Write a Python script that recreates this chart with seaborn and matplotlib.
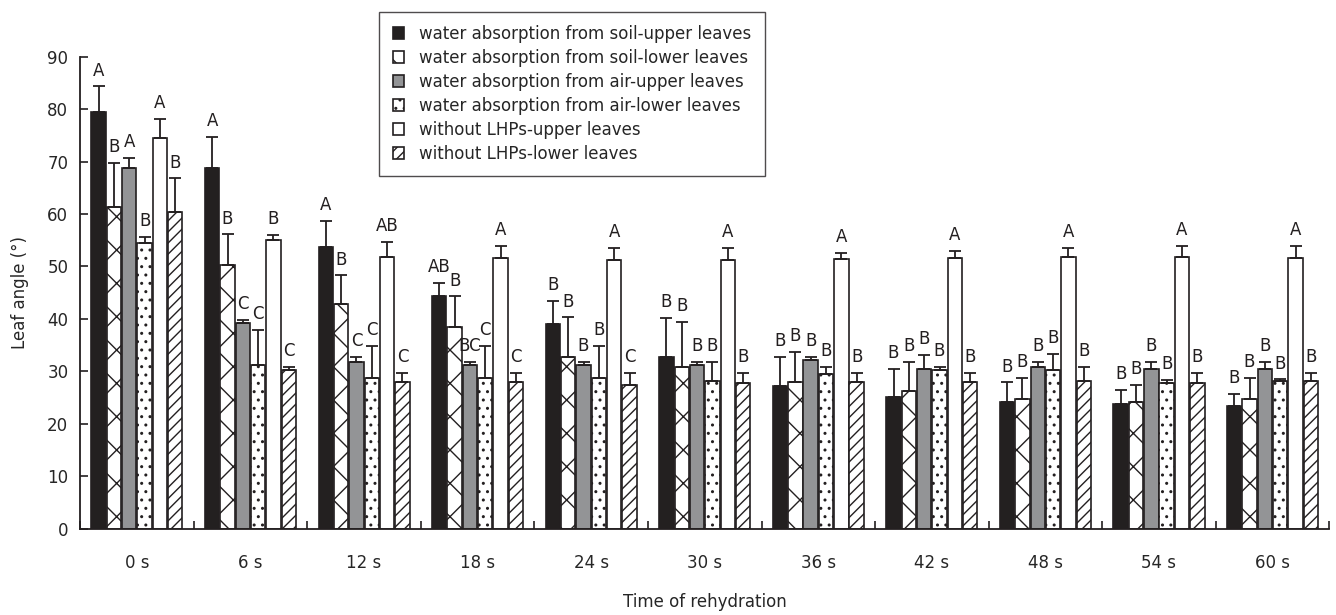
import numpy as np
import pandas as pd
import matplotlib
matplotlib.use("Agg")
import matplotlib.pyplot as plt
import seaborn as sns

# time points
times = ["0 s", "6 s", "12 s", "18 s", "24 s", "30 s", "36 s", "42 s", "48 s", "54 s", "60 s"]

treatments = [
    "water absorption from soil-upper leaves",
    "water absorption from soil-lower leaves",
    "water absorption from air-upper leaves",
    "water absorption from air-lower leaves",
    "without LHPs-upper leaves",
    "without LHPs-lower leaves",
]

# mean leaf angle (deg) per treatment
soil_upper = [79.5, 68.8, 53.7, 44.3, 39.0, 32.8, 27.2, 25.1, 24.2, 23.8, 23.4]
soil_lower = [61.4, 50.3, 42.9, 38.5, 32.8, 30.8, 27.9, 26.2, 24.8, 24.1, 24.8]
air_upper = [68.7, 39.2, 31.8, 31.2, 31.2, 31.2, 32.2, 30.5, 30.8, 30.5, 30.5]
air_lower = [54.4, 31.2, 28.8, 28.8, 28.8, 28.1, 29.5, 30.2, 30.2, 27.8, 28.1]
no_lhp_upper = [74.4, 55.0, 51.9, 51.6, 51.3, 51.3, 51.4, 51.6, 51.9, 51.9, 51.6]
no_lhp_lower = [60.4, 30.3, 27.9, 27.9, 27.5, 27.8, 27.9, 27.9, 28.1, 27.8, 28.1]

# upper error bar lengths
err_soil_upper = [4.8, 5.9, 5.0, 2.5, 4.5, 7.4, 5.6, 5.4, 3.7, 2.7, 2.4]
err_soil_lower = [8.4, 5.8, 5.4, 5.8, 7.5, 8.7, 5.9, 5.6, 4.0, 3.4, 4.0]
err_air_upper = [2.0, 0.7, 1.0, 0.6, 0.6, 0.6, 0.6, 2.7, 1.0, 1.3, 1.3]
err_air_lower = [1.3, 6.7, 6.1, 6.1, 6.1, 3.7, 1.3, 0.6, 3.1, 0.6, 0.4]
err_no_lhp_upper = [3.7, 1.0, 2.8, 2.4, 2.3, 2.3, 1.2, 1.4, 1.7, 2.1, 2.4]
err_no_lhp_lower = [6.4, 0.6, 1.9, 1.9, 2.3, 2.0, 1.9, 1.9, 2.7, 2.0, 1.6]

# significance letters
let_soil_upper = ["A", "A", "A", "AB", "B", "B", "B", "B", "B", "B", "B"]
let_soil_lower = ["B", "B", "B", "B", "B", "B", "B", "B", "B", "B", "B"]
let_air_upper = ["A", "C", "C", "BC", "B", "B", "B", "B", "B", "B", "B"]
let_air_lower = ["B", "C", "C", "C", "B", "B", "B", "B", "B", "B", "B"]
let_no_lhp_upper = ["A", "B", "AB", "A", "A", "A", "A", "A", "A", "A", "A"]
let_no_lhp_lower = ["B", "C", "C", "C", "C", "B", "B", "B", "B", "B", "B"]

means = [soil_upper, soil_lower, air_upper, air_lower, no_lhp_upper, no_lhp_lower]
errs = [err_soil_upper, err_soil_lower, err_air_upper, err_air_lower,
        err_no_lhp_upper, err_no_lhp_lower]
letters = [let_soil_upper, let_soil_lower, let_air_upper, let_air_lower,
           let_no_lhp_upper, let_no_lhp_lower]

colors = ["#231f20", "white", "#929497", "white", "white", "white"]
hatches = ["", "x", "", "..", "", "///"]

rows = []
for t, vals in zip(treatments, means):
    for tm, v in zip(times, vals):
        rows.append({"time": tm, "treatment": t, "angle": v})
df = pd.DataFrame(rows)

sns.set_style("white")
plt.rcParams["font.family"] = ["DejaVu Sans"]
plt.rcParams["hatch.linewidth"] = 1.0

fig = plt.figure(figsize=(13.36, 6.15), dpi=100)
ax = fig.add_axes([0.06, 0.14, 0.935, 0.768])

sns.barplot(data=df, x="time", y="angle", hue="treatment", hue_order=treatments,
            palette=colors, edgecolor="#231f20", linewidth=1.2, width=0.81,
            gap=0.06, errorbar=None, legend=False, ax=ax)

bars = list(ax.containers)
for i, cont in enumerate(bars):
    for j, p in enumerate(cont.patches):
        p.set_hatch(hatches[i])
        x = p.get_x() + p.get_width() / 2
        h = p.get_height()
        ax.errorbar(x, h, yerr=[[0], [errs[i][j]]], fmt="none", ecolor="#231f20",
                    elinewidth=1.3, capsize=4.5, capthick=1.3, zorder=3)
        ax.text(x, h + errs[i][j] + 1.3, letters[i][j], ha="center", va="bottom",
                fontsize=12, color="#231f20")

ax.set_ylim(0, 90)
ax.set_xlim(-0.5, 10.5)
ax.set_yticks(np.arange(0, 91, 10))
ax.set_xticks(np.arange(len(times)))
ax.set_xticks(np.arange(-0.5, 11, 1), minor=True)
ax.tick_params(axis="x", which="major", length=0, pad=18, labelsize=12)
ax.tick_params(axis="x", which="minor", direction="in", length=6, width=1.2,
               color="#231f20", bottom=True)
ax.tick_params(axis="y", direction="in", length=6, width=1.2, pad=8.5,
               labelsize=12, color="#231f20", left=True)

for s in ["top", "right"]:
    ax.spines[s].set_visible(False)
for s in ["left", "bottom"]:
    ax.spines[s].set_color("#231f20")
    ax.spines[s].set_linewidth(1.3)

ax.set_xlabel("Time of rehydration", fontsize=12)
ax.set_ylabel("Leaf angle (°)", fontsize=12)
ax.xaxis.set_label_coords(0.5, -0.135)
ax.yaxis.set_label_coords(-0.041, 0.5)

leg = fig.legend(handles=bars, labels=treatments, loc="upper left",
                 bbox_to_anchor=(0.284, 0.981), fontsize=12, frameon=True,
                 fancybox=False, handlelength=0.7, handleheight=0.7,
                 handletextpad=0.9, labelspacing=0.36, borderpad=0.8,
                 borderaxespad=0)
leg.get_frame().set_edgecolor("#231f20")
leg.get_frame().set_linewidth(1.0)

fig.savefig("out.png", dpi=100)
